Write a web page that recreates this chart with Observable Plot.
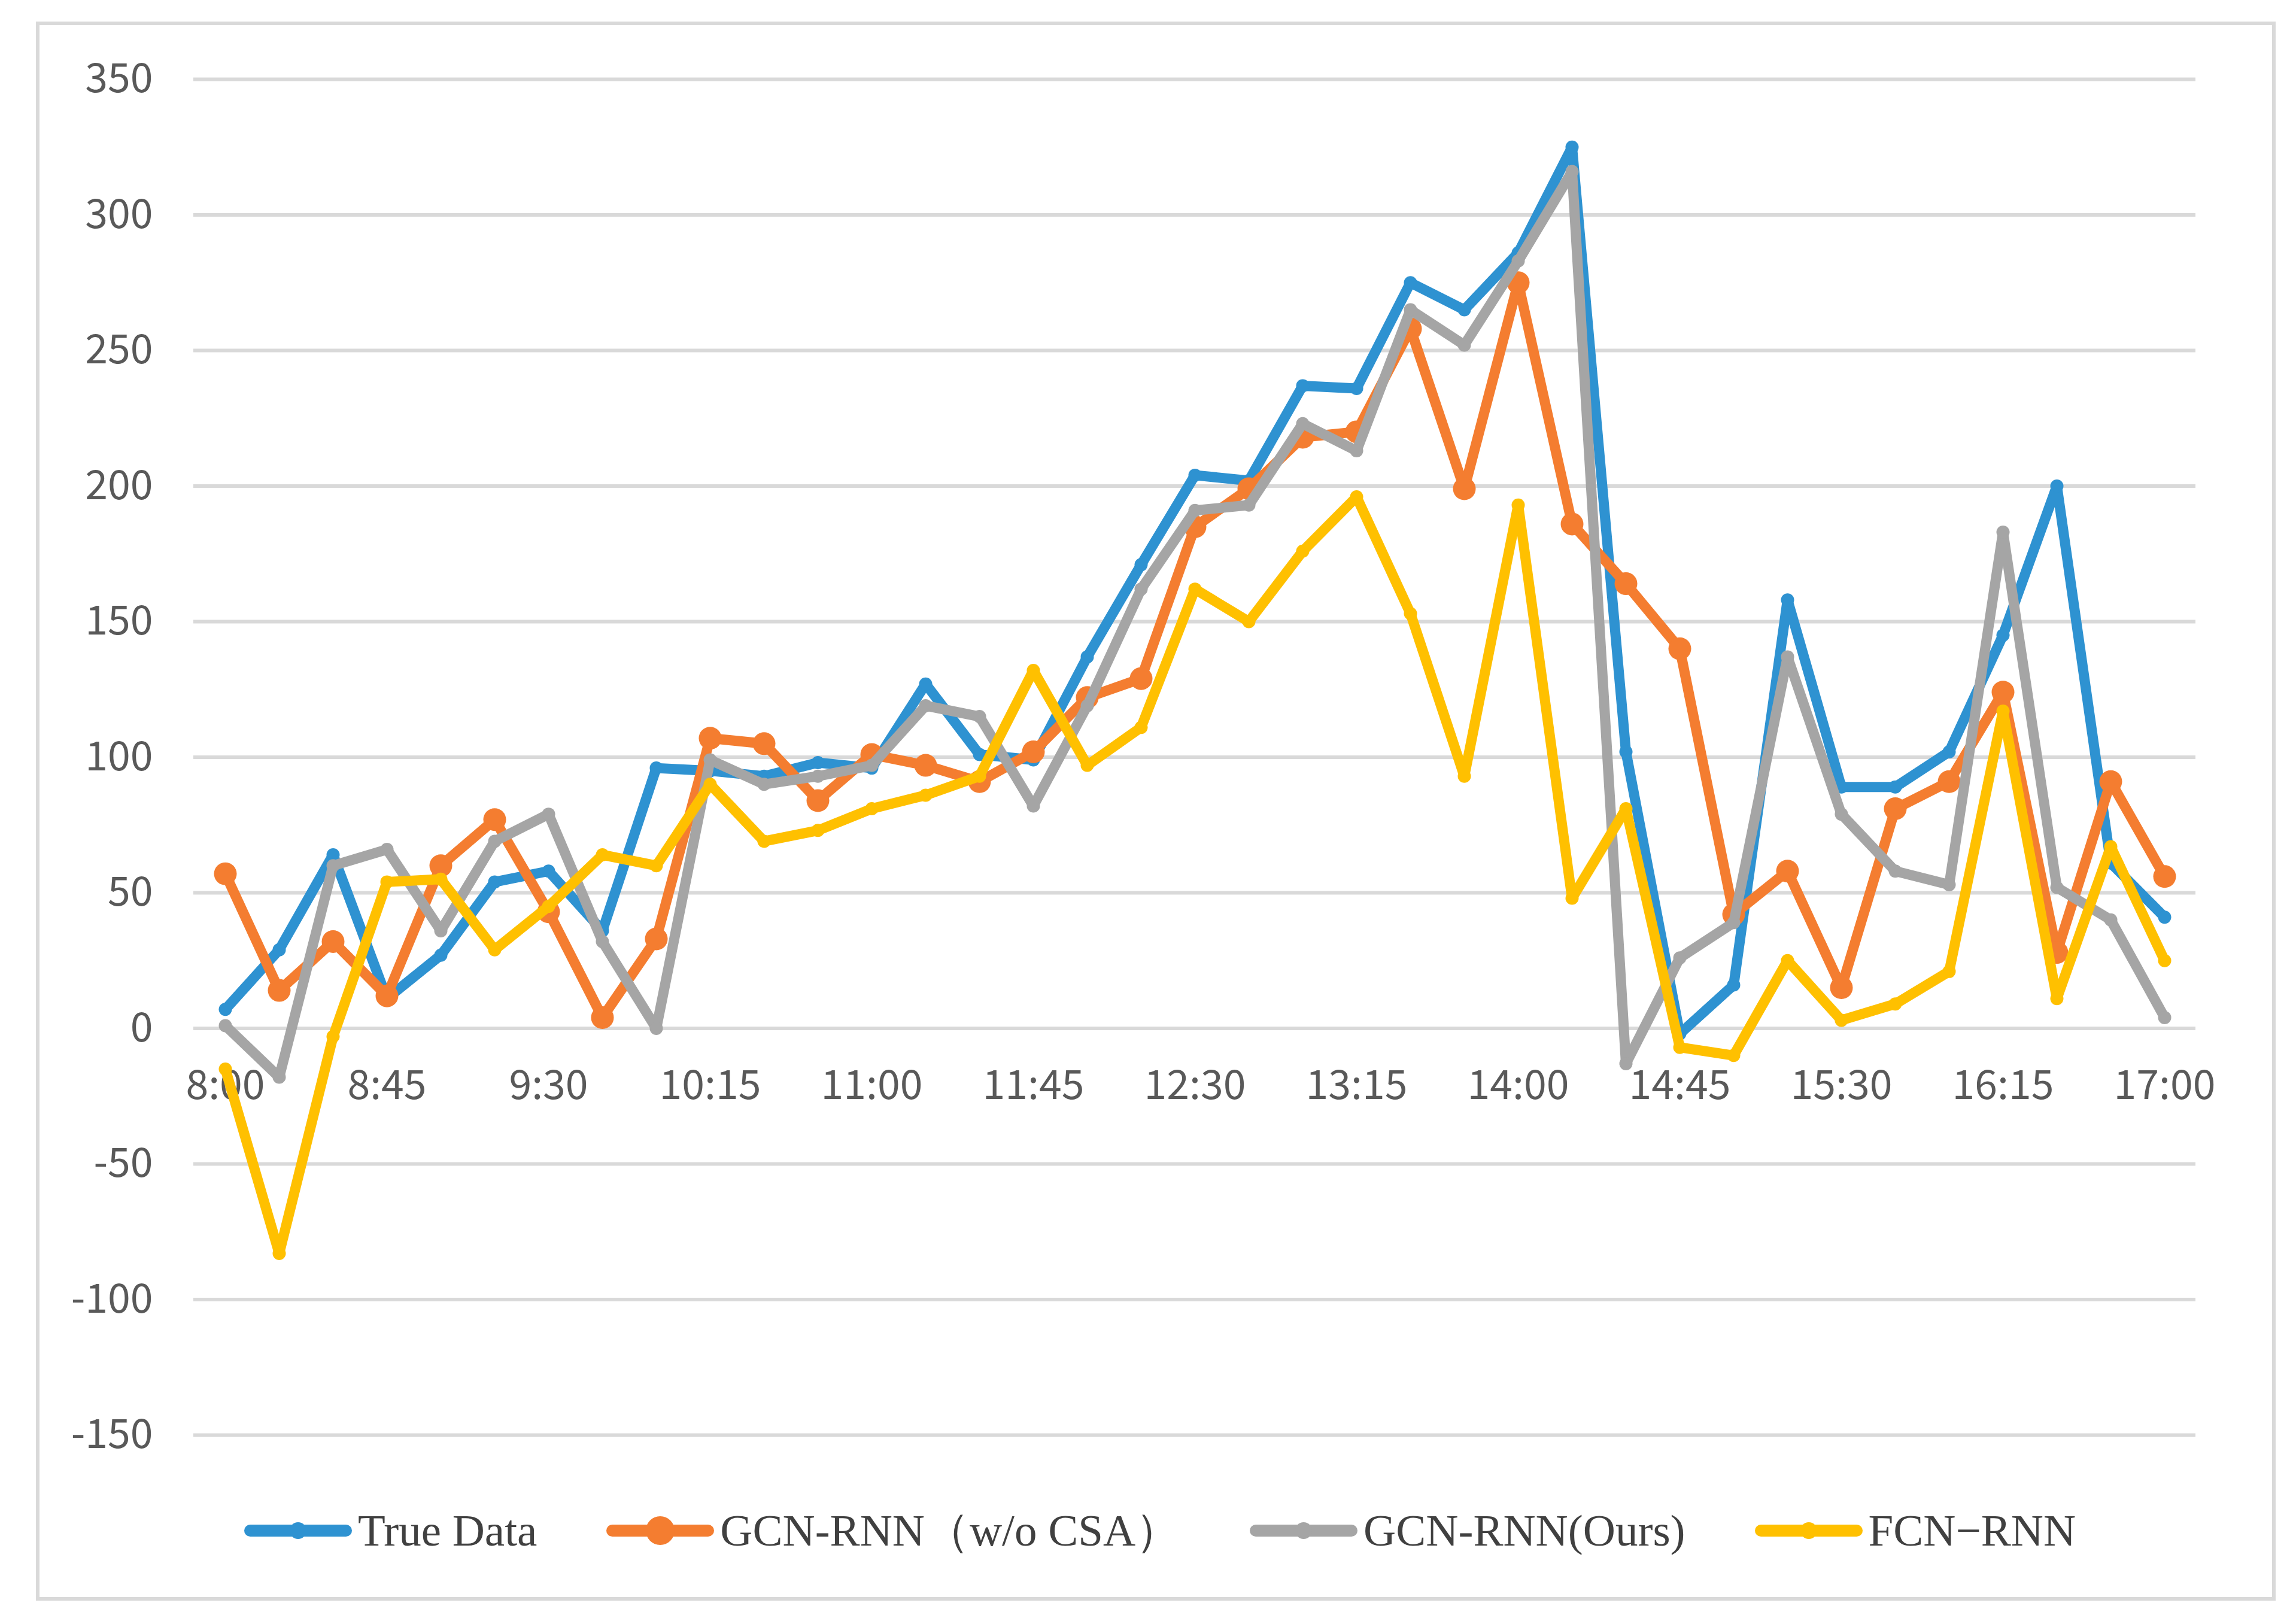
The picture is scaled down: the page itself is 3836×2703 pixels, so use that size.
<!DOCTYPE html>
<html>
<head>
<meta charset="utf-8">
<script src="https://cdn.jsdelivr.net/npm/d3@7"></script>
<script src="https://cdn.jsdelivr.net/npm/@observablehq/plot@0.6"></script>
<style>
  html, body { margin: 0; padding: 0; background: #ffffff; }
  #frame {
    position: absolute; left: 60px; top: 36px;
    width: 3742px; height: 2638px; box-sizing: border-box;
    border: 6px solid #d9d9d9; background: #ffffff;
  }
  #chart { position: absolute; left: 0; top: 0; }
  #legend {
    position: absolute; left: 342px; top: 2475px; height: 80px;
    display: flex; align-items: center; gap: 116px;
    font-family: "Liberation Serif", "Times New Roman", serif;
    font-size: 75px; color: #404040; white-space: nowrap;
  }
  .item { display: flex; align-items: center; }
  .item svg { margin-right: 10px; }
</style>
</head>
<body>
<div id="frame">
  <div id="chart"></div>
  <div id="legend"></div>
</div>
<script>
// ---- data ----
const times = ["8:00","8:15","8:30","8:45","9:00","9:15","9:30","9:45","10:00","10:15","10:30","10:45",
  "11:00","11:15","11:30","11:45","12:00","12:15","12:30","12:45","13:00","13:15","13:30","13:45",
  "14:00","14:15","14:30","14:45","15:00","15:15","15:30","15:45","16:00","16:15","16:30","16:45","17:00"];
const xTickLabels = ["8:00","8:45","9:30","10:15","11:00","11:45","12:30","13:15","14:00","14:45","15:30","16:15","17:00"];
const yTicks = [-150, -100, -50, 0, 50, 100, 150, 200, 250, 300, 350];

const seriesNames = ["True Data", "GCN-RNN（w/o CSA）", "GCN-RNN(Ours)", "FCN−RNN"];
const seriesColors = ["#2e92d1", "#f47d30", "#a5a5a5", "#ffc000"];

const trueData = [7, 29, 64, 11, 27, 54, 58, 36, 96, 95, 93, 98, 96, 127, 101, 99, 137, 171, 204, 202,
  237, 236, 275, 265, 286, 325, 102, -2, 16, 158, 89, 89, 102, 145, 200, 61, 41];
const gcnNoCsa = [57, 14, 32, 12, 60, 77, 43, 4, 33, 107, 105, 84, 101, 97, 91, 102, 122, 129, 185, 199,
  218, 220, 258, 199, 275, 186, 164, 140, 42, 58, 15, 81, 91, 124, 28, 91, 56];
const gcnOurs = [1, -18, 60, 66, 36, 69, 79, 32, 0, 99, 90, 93, 97, 119, 115, 82, 119, 162, 191, 193,
  223, 213, 265, 252, 283, 316, -13, 26, 39, 137, 79, 58, 53, 183, 52, 40, 4];
const fcnRnn = [-15, -83, -3, 54, 55, 29, 45, 64, 60, 90, 69, 73, 81, 86, 93, 132, 97, 111, 162, 150,
  176, 196, 153, 93, 193, 48, 81, -7, -10, 25, 3, 9, 21, 117, 11, 67, 25];

const seriesValues = [trueData, gcnNoCsa, gcnOurs, fcnRnn];
const markerRadius = [11, 19, 11, 11];

// ---- build table ----
const series = seriesNames.map((name, k) => ({
  name, color: seriesColors[k], r: markerRadius[k],
  rows: times.map((t, i) => ({time: t, value: seriesValues[k][i], series: name}))
}));

const seriesMarks = series.flatMap(s => [
  Plot.line(s.rows, {x: "time", y: "value", stroke: s.color, strokeWidth: 17,
    strokeLinejoin: "round", strokeLinecap: "round"}),
  Plot.dot(s.rows, {x: "time", y: "value", r: s.r, fill: s.color, stroke: "none"})
]);

const chart = Plot.plot({
  width: 3730,
  height: 2400,
  marginLeft: 257,
  marginRight: 128,
  marginTop: 90,
  marginBottom: 45,
  style: {background: "transparent", fontFamily: "'Noto Sans CJK SC', 'Noto Sans', sans-serif", fontSize: "68px", color: "#595959"},
  x: {type: "point", domain: times, padding: 0.5, axis: null},
  y: {domain: [-150, 350], axis: null},
  marks: [
    Plot.ruleY(yTicks, {stroke: "#d9d9d9", strokeWidth: 6}),
    Plot.axisY(yTicks, {tickSize: 0, tickPadding: 68, label: null, tickFormat: d => String(d),
      fill: "#595959", fontSize: 68}),
    Plot.text(xTickLabels, {x: d => d, y: () => 0, dy: 96, fill: "#595959", fontSize: 68}),
    ...seriesMarks
  ]
});
document.getElementById("chart").appendChild(chart);

// ---- legend ----
const legend = d3.select("#legend");
series.forEach(s => {
  const item = legend.append("div").attr("class", "item");
  const svg = item.append("svg").attr("width", 180).attr("height", 60);
  svg.append("line").attr("x1", 10).attr("x2", 170).attr("y1", 30).attr("y2", 30)
    .attr("stroke", s.color).attr("stroke-width", 20).attr("stroke-linecap", "round");
  svg.append("circle").attr("cx", 90).attr("cy", 30).attr("r", s.r > 15 ? 24 : 14).attr("fill", s.color);
  item.append("span").text(s.name);
});
</script>
</body>
</html>
